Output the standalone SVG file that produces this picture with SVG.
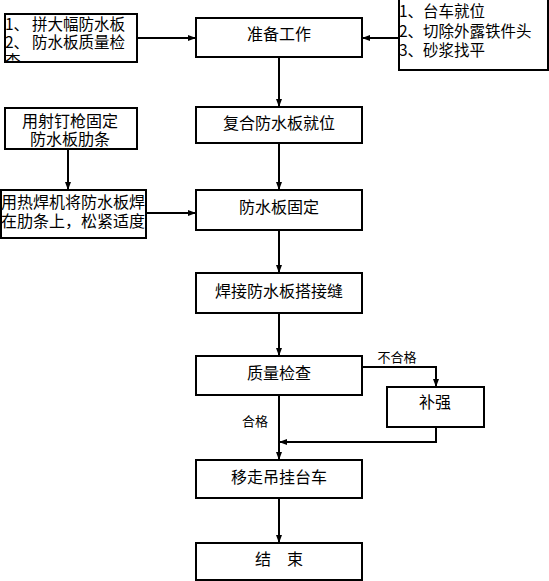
<svg xmlns="http://www.w3.org/2000/svg" width="549" height="581" viewBox="0 0 549 581">
<style>
.box{fill:#fff;stroke:#000;stroke-width:2}
.t{font-family:"Noto Sans CJK SC","Noto Sans",sans-serif;font-size:15.5px;fill:#000}
.c{text-anchor:middle;dominant-baseline:central}
.l{dominant-baseline:central}
.s{font-size:13px}
.ln{fill:none;stroke:#000;stroke-width:2}
</style>
<defs>
<marker id="a" viewBox="0 0 8 6" refX="8" refY="3" markerWidth="8" markerHeight="6" markerUnits="userSpaceOnUse" orient="auto">
<path d="M0,0 L8,3 L0,6 z" fill="#000"/>
</marker>
<clipPath id="cp1"><rect x="5" y="14" width="132" height="48"/></clipPath>
</defs>
<rect width="549" height="581" fill="#fff"/>
<g id="connectors">
<path class="ln" d="M137,38 H196" marker-end="url(#a)"/>
<path class="ln" d="M399,38 H362" marker-end="url(#a)"/>
<path class="ln" d="M279,57 V107" marker-end="url(#a)"/>
<path class="ln" d="M68,149 V190" marker-end="url(#a)"/>
<path class="ln" d="M279,143 V190" marker-end="url(#a)"/>
<path class="ln" d="M146,213 H196" marker-end="url(#a)"/>
<path class="ln" d="M279,230 V273" marker-end="url(#a)"/>
<path class="ln" d="M279,313 V356" marker-end="url(#a)"/>
<path class="ln" d="M362,367 H436 V387" marker-end="url(#a)"/>
<path class="ln" d="M279,395 V460" marker-end="url(#a)"/>
<path class="ln" d="M436,427 V442 H279" marker-end="url(#a)"/>
<path class="ln" d="M279,498 V543" marker-end="url(#a)"/>
<text class="t s c" x="397" y="356">不合格</text>
<text class="t s c" x="255" y="420">合格</text>
</g>
<g id="n-prep-left">
<rect class="box" x="5" y="14" width="132" height="48"/>
<g clip-path="url(#cp1)">
<text class="t l" x="5" y="23">1、<tspan x="32">拼大幅防水板</tspan></text>
<text class="t l" x="5" y="41">2、<tspan x="32">防水板质量检</tspan></text>
<text class="t l" x="5" y="60">查</text>
</g>
</g>
<g id="n-prep">
<rect class="box" x="196" y="18" width="166" height="39"/>
<text class="t c" x="279" y="33" style="font-size:16px">准备工作</text>
</g>
<g id="n-prep-right">
<rect class="box" x="399" y="-1" width="149" height="71"/>
<text class="t l" x="399" y="10">1、<tspan x="423">台车就位</tspan></text>
<text class="t l" x="399" y="30">2、<tspan x="423">切除外露铁件头</tspan></text>
<text class="t l" x="399" y="49">3、<tspan x="423">砂浆找平</tspan></text>
</g>
<g id="n-nail">
<rect class="box" x="5" y="108" width="132" height="41"/>
<text class="t c" x="70" y="120" style="font-size:16px">用射钉枪固定</text>
<text class="t c" x="70" y="138" style="font-size:16px">防水板肋条</text>
</g>
<g id="n-place">
<rect class="box" x="196" y="107" width="166" height="36"/>
<text class="t c" x="279" y="122" style="font-size:16px">复合防水板就位</text>
</g>
<g id="n-weld-left">
<rect class="box" x="1" y="190" width="145" height="48"/>
<text class="t c" x="73" y="201" style="font-size:16px">用热焊机将防水板焊</text>
<text class="t c" x="73" y="220" style="font-size:16px">在肋条上，松紧适度</text>
</g>
<g id="n-fix">
<rect class="box" x="196" y="190" width="166" height="40"/>
<text class="t c" x="279" y="206" style="font-size:16px">防水板固定</text>
</g>
<g id="n-seam">
<rect class="box" x="196" y="273" width="166" height="40"/>
<text class="t c" x="279" y="290" style="font-size:16px">焊接防水板搭接缝</text>
</g>
<g id="n-check">
<rect class="box" x="196" y="356" width="166" height="39"/>
<text class="t c" x="279" y="372" style="font-size:16px">质量检查</text>
</g>
<g id="n-fix2">
<rect class="box" x="387" y="387" width="97" height="40"/>
<text class="t c" x="435" y="401" style="font-size:16px">补强</text>
</g>
<g id="n-move">
<rect class="box" x="196" y="460" width="166" height="38"/>
<text class="t c" x="279" y="476" style="font-size:16px">移走吊挂台车</text>
</g>
<g id="n-end">
<rect class="box" x="196" y="543" width="166" height="37"/>
<text class="t c" x="279" y="558" style="font-size:16px">结　束</text>
</g>
</svg>
